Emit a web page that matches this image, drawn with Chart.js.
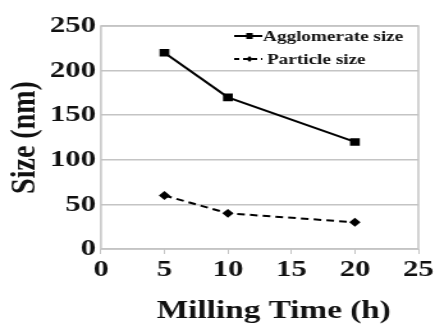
<!DOCTYPE html>
<html><head><meta charset="utf-8">
<script src="https://cdn.jsdelivr.net/npm/chart.js@4"></script>
<style>
html,body{margin:0;padding:0;background:#fff;overflow:hidden}
#wrap{width:340px;height:325px;transform:scaleX(1.2794);transform-origin:0 0}
#c{display:block;width:340px;height:325px}
</style>
</head><body><div id="wrap"><canvas id="c" width="340" height="325"></canvas></div>
<script>
const millingTime = [5, 10, 20];
const agglomerateSize = [220, 170, 120];
const particleSize = [60, 40, 30];
const xTicks = [0, 5, 10, 15, 20, 25];
const yTicks = [0, 50, 100, 150, 200, 250];
const seriesNames = ["Agglomerate size", "Particle size"];
const xTitle = "Milling Time (h)";
const yTitle = "Size (nm)";

const toPts = (xs, ys) => xs.map((x, i) => ({x, y: ys[i]}));
const serif = "'Liberation Serif','Times New Roman',serif";

const boxAndLegend = {
  id: 'boxAndLegend',
  afterDatasetsDraw(chart) {
    const {ctx, chartArea: a} = chart;
    ctx.save();
    ctx.strokeStyle = '#c4c4c4';
    ctx.lineWidth = 1.5;
    ctx.strokeRect(a.left, a.top, a.right - a.left, a.bottom - a.top);
    ctx.font = "bold 15px " + serif;
    ctx.textBaseline = 'middle';
    const rows = [{y: 36, dash: [], marker: 'sq', tx: 205.6}, {y: 59, dash: [4, 3], marker: 'dm', tx: 208.7}];
    rows.forEach((r, i) => {
      ctx.strokeStyle = '#000';
      ctx.lineWidth = 2;
      ctx.setLineDash(r.dash);
      ctx.beginPath(); ctx.moveTo(183, r.y); ctx.lineTo(205, r.y); ctx.stroke();
      ctx.setLineDash([]);
      ctx.fillStyle = '#000';
      if (r.marker === 'sq') { ctx.fillRect(192.5, r.y - 3, 5, 6); }
      else { ctx.beginPath(); ctx.moveTo(195, r.y - 3); ctx.lineTo(197.5, r.y); ctx.lineTo(195, r.y + 3); ctx.lineTo(192.5, r.y); ctx.closePath(); ctx.fill(); }
      ctx.fillStyle = '#111';
      ctx.fillText(seriesNames[i], r.tx, r.y + 1);
    });
    // x-axis title (slightly right of the axis centre, as in the reference)
    ctx.font = "bold 26px " + serif;
    ctx.textAlign = 'center';
    ctx.textBaseline = 'alphabetic';
    ctx.fillStyle = '#111';
    ctx.fillText(xTitle, 214, 318);
    ctx.restore();
  }
};

new Chart(document.getElementById('c'), {
  type: 'line',
  data: {
    datasets: [
      {label: seriesNames[0], data: toPts(millingTime, agglomerateSize), borderColor: '#000', backgroundColor: '#000',
       borderWidth: 2, pointStyle: 'rect', pointRadius: 4, tension: 0},
      {label: seriesNames[1], data: toPts(millingTime, particleSize), borderColor: '#000', backgroundColor: '#000',
       borderWidth: 2, borderDash: [6, 4], pointStyle: 'rectRot', pointRadius: 3, tension: 0}
    ]
  },
  options: {
    responsive: false, animation: false, devicePixelRatio: 1,
    layout: {padding: {top: 26, right: 9.4, left: 0, bottom: 0}},
    plugins: {legend: {display: false}, tooltip: {enabled: false}},
    scales: {
      x: {
        type: 'linear', min: 0, max: 25,
        afterBuildTicks(s) { s.ticks = xTicks.map(v => ({value: v})); },
        afterFit(s) { s.height = 76; },
        grid: {display: true, drawOnChartArea: false, drawTicks: true, tickLength: 5, color: '#c4c4c4'},
        border: {display: false},
        ticks: {color: '#111', font: {family: serif, size: 24, weight: 'bold'}, padding: 1, maxRotation: 0},
        title: {display: false}
      },
      y: {
        min: 0, max: 250,
        afterBuildTicks(s) { s.ticks = yTicks.map(v => ({value: v})); },
        afterFit(s) { s.width = 78.9; },
        grid: {color: '#c4c4c4', lineWidth: 1.5, drawTicks: false},
        border: {display: false},
        ticks: {color: '#111', font: {family: serif, size: 24, weight: 'bold'}, padding: 4},
        title: {display: true, text: yTitle, color: '#111', font: {family: serif, size: 28, weight: 'bold'}, padding: {top: 3, bottom: 0}}
      }
    }
  },
  plugins: [boxAndLegend]
});
</script></body></html>
